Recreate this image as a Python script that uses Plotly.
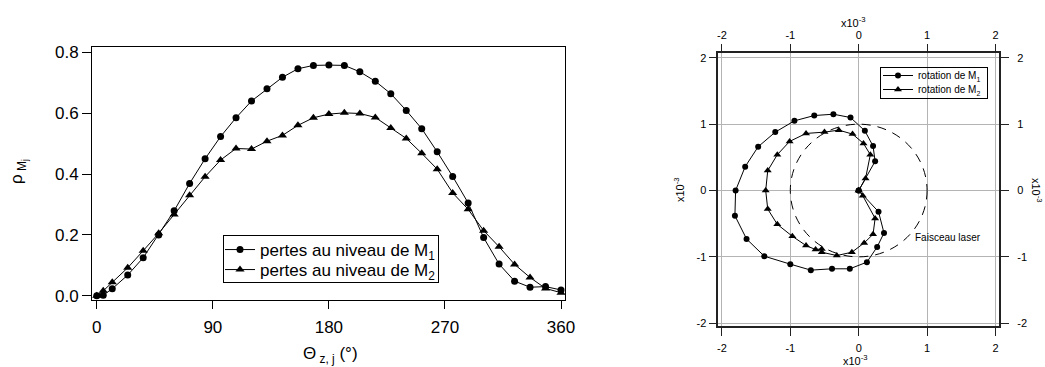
import plotly.graph_objects as go

# ---------------- data ----------------
theta_deg = [0, 5, 12, 24, 36, 48, 60, 72, 84, 96, 108, 120, 132, 144, 156, 168,
             180, 192, 204, 216, 228, 240, 252, 264, 276, 288, 300, 312, 324, 336, 348, 360]
rho_m1 = [0.000, 0.002, 0.023, 0.068, 0.125, 0.200, 0.279, 0.369, 0.450, 0.523,
          0.585, 0.640, 0.680, 0.718, 0.746, 0.757, 0.758, 0.757, 0.736, 0.705,
          0.664, 0.609, 0.549, 0.473, 0.392, 0.305, 0.191, 0.104, 0.048, 0.028,
          0.030, 0.019]
rho_m2 = [0.000, 0.016, 0.044, 0.092, 0.148, 0.205, 0.267, 0.330, 0.391, 0.446,
          0.484, 0.482, 0.508, 0.527, 0.560, 0.585, 0.597, 0.601, 0.599, 0.586,
          0.551, 0.517, 0.468, 0.416, 0.338, 0.284, 0.214, 0.161, 0.103, 0.060,
          0.024, 0.010]

rot_m1_x = [0, 0.29, 0.37, 0.27, 0.12, -0.13, -0.39, -0.70, -1.00, -1.38, -1.64, -1.81,
            -1.80, -1.66, -1.47, -1.22, -0.94, -0.65, -0.37, -0.12, 0.09, 0.21, 0.24, 0]
rot_m1_y = [0, -0.32, -0.64, -0.85, -1.08, -1.18, -1.18, -1.20, -1.11, -0.99, -0.73, -0.38,
            0.0, 0.36, 0.66, 0.88, 1.05, 1.13, 1.15, 1.10, 0.90, 0.67, 0.44, 0]
rot_m2_x = [0, 0.06, 0.24, 0.21, 0.08, -0.10, -0.32, -0.54, -0.54, -0.63, -0.77, -0.97, -1.19,
            -1.33, -1.36, -1.33, -1.19, -1.01, -0.77, -0.50, -0.29, -0.09, 0.07, 0.17, 0.10, 0]
rot_m2_y = [0, -0.08, -0.42, -0.66, -0.79, -0.93, -0.98, -0.93, -0.88, -0.89, -0.83, -0.69, -0.51,
            -0.28, 0.0, 0.30, 0.54, 0.74, 0.86, 0.88, 0.91, 0.85, 0.71, 0.54, 0.18, 0]

left_xticks = [0, 90, 180, 270, 360]
left_yticks = [0.0, 0.2, 0.4, 0.6, 0.8]
right_ticks = [-2, -1, 0, 1, 2]
right_ticktext = ["-2", "-1", "0", "1", "2"]
beam_radius = 1.0

names_left = ["pertes au niveau de M<sub>1</sub>", "pertes au niveau de M<sub>2</sub>"]
names_right = ["rotation de M<sub>1</sub>", "rotation de M<sub>2</sub>"]

FONT = "Liberation Sans, Arial, sans-serif"
W, H = 1045, 367

fig = go.Figure()

# ---------------- left chart ----------------
fig.add_trace(go.Scatter(x=theta_deg, y=rho_m1, mode="lines+markers", name=names_left[0],
                         line=dict(color="black", width=1),
                         marker=dict(symbol="circle", size=7, color="black"),
                         xaxis="x", yaxis="y", legend="legend"))
fig.add_trace(go.Scatter(x=theta_deg, y=rho_m2, mode="lines+markers", name=names_left[1],
                         line=dict(color="black", width=1),
                         marker=dict(symbol="triangle-up", size=8, color="black"),
                         xaxis="x", yaxis="y", legend="legend3"))

# ---------------- right chart ----------------
fig.add_trace(go.Scatter(x=rot_m1_x, y=rot_m1_y, mode="lines+markers", name=names_right[0],
                         line=dict(color="black", width=1),
                         marker=dict(symbol="circle", size=6, color="black"),
                         xaxis="x3", yaxis="y3", legend="legend2"))
fig.add_trace(go.Scatter(x=rot_m2_x, y=rot_m2_y, mode="lines+markers", name=names_right[1],
                         line=dict(color="black", width=1),
                         marker=dict(symbol="triangle-up", size=7, color="black"),
                         xaxis="x3", yaxis="y3", legend="legend4"))
# invisible trace activating the top/right mirror axes
fig.add_trace(go.Scatter(x=[0], y=[0], mode="markers", marker=dict(opacity=0),
                         showlegend=False, hoverinfo="skip", xaxis="x4", yaxis="y4"))

# dashed laser beam circle
fig.add_shape(type="circle", xref="x3", yref="y3",
              x0=-beam_radius, x1=beam_radius, y0=-beam_radius, y1=beam_radius,
              line=dict(color="black", width=1, dash="9px,7px"), layer="above")

ld = [92 / W, 565 / W]
ldy = [1 - 300 / H, 1 - 47 / H]
rd = [718.3 / W, 999.3 / W]
rdy = [1 - 326 / H, 1 - 53.3 / H]

axl = dict(showline=True, linecolor="black", linewidth=1, mirror=True, ticks="outside",
           tickcolor="black", tickwidth=1, showgrid=False, zeroline=False, automargin=False,
           tickfont=dict(family=FONT, size=17, color="black"))
axr = dict(showline=True, linecolor="#222", linewidth=1.5, ticks="outside", ticklen=8,
           tickcolor="#222", tickwidth=1, zeroline=False, tickmode="array", automargin=False,
           tickvals=right_ticks, ticktext=right_ticktext,
           tickfont=dict(family=FONT, size=11, color="black"))

leg_common = dict(xanchor="left", yanchor="middle", bgcolor="rgba(0,0,0,0)", borderwidth=0,
                  tracegroupgap=0)

fig.update_layout(
    width=W, height=H, autosize=False,
    margin=dict(l=0, r=0, t=0, b=0, pad=0, autoexpand=False),
    paper_bgcolor="white", plot_bgcolor="white",
    font=dict(family=FONT, color="black"),
    xaxis=dict(axl, domain=ld, range=[-3.7, 363.1], tickvals=left_xticks, ticklen=8, anchor="y",
               ticklabelstandoff=4),
    yaxis=dict(axl, domain=ldy, range=[-0.014, 0.8175], tickvals=left_yticks, tickformat=".1f",
               ticklen=9, anchor="x"),
    xaxis3=dict(axr, domain=rd, range=[-2.053, 2.056], anchor="y3", side="bottom",
                showgrid=True, gridcolor="#b4b4b4", gridwidth=1, ticklabelstandoff=3),
    yaxis3=dict(axr, domain=rdy, range=[-2.042, 2.068], anchor="x3", side="left",
                showgrid=True, gridcolor="#b4b4b4", gridwidth=1),
    xaxis4=dict(axr, overlaying="x3", range=[-2.053, 2.056], anchor="y3", side="top",
                showgrid=False),
    yaxis4=dict(axr, overlaying="y3", range=[-2.042, 2.068], anchor="x3", side="right",
                showgrid=False, ticklabelstandoff=6),
    legend=dict(leg_common, x=220 / W, y=1 - 250 / H,
                font=dict(family=FONT, size=17, color="black")),
    legend3=dict(leg_common, x=220 / W, y=1 - 270 / H,
                 font=dict(family=FONT, size=17, color="black")),
    legend2=dict(leg_common, x=878 / W, y=1 - 75.5 / H,
                 font=dict(family=FONT, size=10, color="black")),
    legend4=dict(leg_common, x=878 / W, y=1 - 89.5 / H,
                 font=dict(family=FONT, size=10, color="black")),
    showlegend=True,
)

# legend frames (empty bordered boxes), given by centre and size in pixels
for (cx, cy, w, h) in [(331, 259, 216, 48), (934, 83, 108, 32)]:
    fig.add_annotation(xref="paper", yref="paper", showarrow=False, text=" ",
                       x=cx / W, y=1 - cy / H, xanchor="center", yanchor="middle",
                       width=w - 2, height=h - 2, borderpad=0,
                       bordercolor="black", borderwidth=1, bgcolor="rgba(0,0,0,0)",
                       font=dict(size=1))

ann = [
    dict(text="ρ<sub> M<sub>j</sub></sub>", x=18 / W, y=1 - 172 / H, textangle=-90, size=17),
    dict(text="Θ<sub> z, j</sub> (°)", x=330 / W, y=1 - 355 / H, size=17),
    dict(text="x10<sup>-3</sup>", x=853 / W, y=1 - 22 / H, size=11),
    dict(text="x10<sup>-3</sup>", x=855 / W, y=1 - 360 / H, size=11),
    dict(text="x10<sup>-3</sup>", x=679 / W, y=1 - 190 / H, textangle=-90, size=11),
    dict(text="x10<sup>-3</sup>", x=1037 / W, y=1 - 190 / H, textangle=90, size=11),
]
for a in ann:
    fig.add_annotation(xref="paper", yref="paper", showarrow=False,
                       xanchor="center", yanchor="middle",
                       text=a["text"], x=a["x"], y=a["y"], textangle=a.get("textangle", 0),
                       font=dict(family=FONT, color="black", size=a["size"]))

fig.add_annotation(text="Faisceau laser", xref="x3", yref="y3", x=0.79, y=-0.705,
                   xanchor="left", yanchor="middle", showarrow=False,
                   font=dict(family=FONT, size=10, color="black"))

fig.write_html("out.html")
